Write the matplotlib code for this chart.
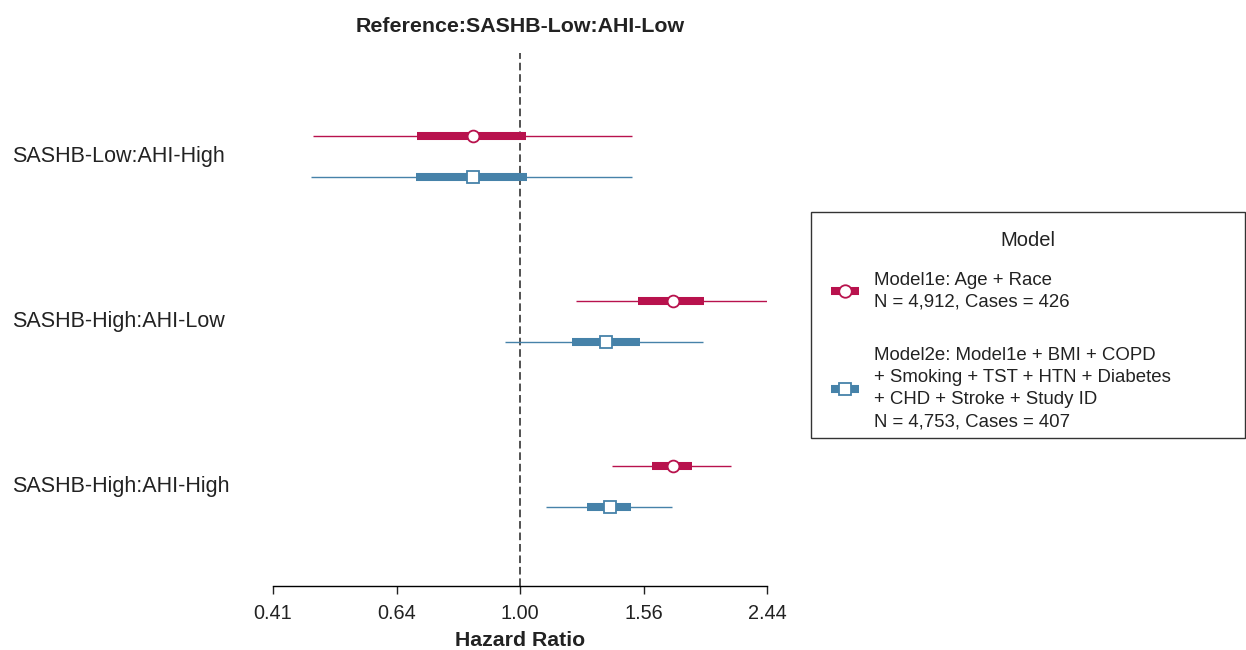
import numpy as np
import matplotlib.pyplot as plt
from matplotlib.lines import Line2D
from matplotlib.patches import Rectangle
from matplotlib.ticker import NullLocator

plt.rcParams['font.family'] = ['Liberation Sans', 'DejaVu Sans']

groups = ['SASHB-Low:AHI-High', 'SASHB-High:AHI-Low', 'SASHB-High:AHI-High']

# Model1e: hazard ratio, outer (thin) and inner (thick) intervals
hr_m1 = [0.844, 1.736, 1.736]
lo_thin_m1 = [0.474, 1.224, 1.394]
hi_thin_m1 = [1.498, 2.455, 2.141]
lo_thick_m1 = [0.690, 1.531, 1.610]
hi_thick_m1 = [1.022, 1.942, 1.860]

# Model2e
hr_m2 = [0.844, 1.364, 1.384]
lo_thin_m2 = [0.470, 0.947, 1.098]
hi_thin_m2 = [1.498, 1.935, 1.730]
lo_thick_m2 = [0.687, 1.206, 1.273]
hi_thick_m2 = [1.026, 1.542, 1.492]

xticks = [0.4096, 0.64, 1.0, 1.5625, 2.4414]
xticklabels = ['0.41', '0.64', '1.00', '1.56', '2.44']

labels = ['Model1e: Age + Race\nN = 4,912, Cases = 426',
          'Model2e: Model1e + BMI + COPD\n+ Smoking + TST + HTN + Diabetes\n+ CHD + Stroke + Study ID\nN = 4,753, Cases = 407']

red = '#B8124D'
blue = '#4682A9'

W, H = 1246, 650
fig = plt.figure(figsize=(W / 100, H / 100), dpi=100)
ax = fig.add_axes([273 / W, 1 - 586 / H, 494 / W, 533 / H])

y = np.arange(len(groups))
off = 0.124

series = [
    (y - off, hr_m1, lo_thin_m1, hi_thin_m1, lo_thick_m1, hi_thick_m1, red, 'o'),
    (y + off, hr_m2, lo_thin_m2, hi_thin_m2, lo_thick_m2, hi_thick_m2, blue, 's'),
]
for yy, hr, lt, ht, lk, hk, c, m in series:
    ax.hlines(yy, lt, ht, color=c, lw=1.0, capstyle='butt', zorder=2)
    ax.hlines(yy, lk, hk, color=c, lw=5.8, capstyle='butt', zorder=3)
    ax.plot(hr, yy, ls='none', marker=m, ms=8.5 if m == 'o' else 8.0,
            mfc='white', mec=c, mew=1.3, zorder=4)

ax.axvline(1.0, color='#222222', lw=1.1, ls=(0, (5, 2.5)), zorder=1)

ax.set_xscale('log')
ax.set_xlim(xticks[0], xticks[-1])
ax.set_ylim(2.603, -0.627)
ax.set_xticks(xticks)
ax.set_xticklabels(xticklabels)
ax.xaxis.set_minor_locator(NullLocator())
ax.set_yticks([])
for s in ['top', 'right', 'left']:
    ax.spines[s].set_visible(False)
ax.spines['bottom'].set_linewidth(1.0)
ax.tick_params(axis='x', length=6, width=1.0, pad=7, labelsize=14.3, colors='#222222')

for i, g in enumerate(groups):
    ax.text((12 - 273) / 494, y[i], g, transform=ax.get_yaxis_transform(),
            ha='left', va='center', fontsize=15.5, color='#222222')

fig.text(520 / W, 1 - 26 / H, 'Reference:SASHB-Low:AHI-Low', ha='center', va='center',
         fontsize=15.4, fontweight='bold', color='#222222')
fig.text(520 / W, 1 - 640 / H, 'Hazard Ratio', ha='center', va='center',
         fontsize=15.3, fontweight='bold', color='#222222')

# legend: box, title and entries
fig.patches.append(Rectangle((811 / W, 1 - 438 / H), 434 / W, 226 / H, transform=fig.transFigure,
                             fill=False, edgecolor='#333333', lw=1.0))
fig.text(1028 / W, 1 - 241 / H, 'Model', ha='center', va='center', fontsize=14.5, color='#222222')

handles = [
    Line2D([], [], color=red, lw=5.8, marker='o', ms=9, mfc='white', mec=red, mew=1.3, solid_capstyle='butt'),
    Line2D([], [], color=blue, lw=5.8, marker='s', ms=8.5, mfc='white', mec=blue, mew=1.3, solid_capstyle='butt'),
]
leg = fig.legend(handles, labels, loc='upper left', bbox_to_anchor=(811 / W, 1 - 251.5 / H),
                 fontsize=13.4, frameon=False, borderpad=1.1, labelspacing=1.95,
                 handlelength=1.5, handletextpad=0.8, borderaxespad=0)
for t in leg.get_texts():
    t.set_color('#222222')
    t.set_linespacing(1.38)

fig.savefig('out.png', dpi=100)
